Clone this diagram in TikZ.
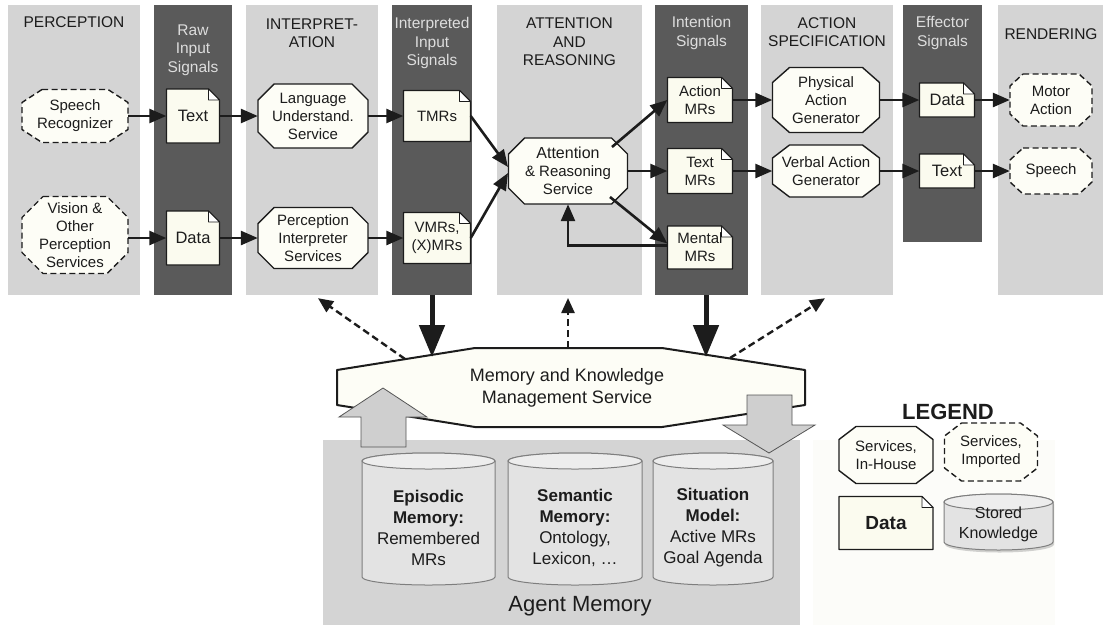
\documentclass[tikz,border=0pt]{standalone}
\usepackage{fontspec}
\setmainfont{Liberation Sans}
\usetikzlibrary{arrows.meta,calc,shadows}
\definecolor{lightcol}{HTML}{D4D4D4}
\definecolor{darkcol}{HTML}{5A5A5A}
\definecolor{nodefill}{HTML}{FDFDF6}
\definecolor{docfill}{HTML}{FBFBEF}
\definecolor{cylfill}{HTML}{E3E3E3}
\definecolor{cyltopfill}{HTML}{EDEDED}
\definecolor{cylline}{HTML}{7E7E7E}
\definecolor{ink}{HTML}{1C1C1C}
\definecolor{headlight}{HTML}{DDDDDD}
\definecolor{legbg}{HTML}{FCFCF9}
\definecolor{blockgray}{HTML}{CFCFCF}
\definecolor{blockline}{HTML}{555555}

\newcommand\octnode[9]{%
\draw[octbase,#1] ({#3-#5/2+#7},{-(#4-#6/2)}) -- ({#3+#5/2-#7},{-(#4-#6/2)}) -- ({#3+#5/2},{-(#4-#6/2+#8)}) -- ({#3+#5/2},{-(#4+#6/2-#8)}) -- ({#3+#5/2-#7},{-(#4+#6/2)}) -- ({#3-#5/2+#7},{-(#4+#6/2)}) -- ({#3-#5/2},{-(#4+#6/2-#8)}) -- ({#3-#5/2},{-(#4-#6/2+#8)}) -- cycle;
\node[minimum width=#5pt,minimum height=#6pt] (#2) at (#3,{-#4}) {#9};}

\newcommand\docnode[7]{%
\draw[docbase] ({#3-#5/2},{-(#4-#6/2)}) -- ({#3+#5/2-11},{-(#4-#6/2)}) -- ({#3+#5/2},{-(#4-#6/2+11)}) -- ({#3+#5/2},{-(#4+#6/2)}) -- ({#3-#5/2},{-(#4+#6/2)}) -- cycle;
\draw[docbase,fill=white,line width=0.8pt] ({#3+#5/2-11},{-(#4-#6/2)}) -- ({#3+#5/2-11},{-(#4-#6/2+11)}) -- ({#3+#5/2},{-(#4-#6/2+11)}) -- cycle;
\node[#1,minimum width=#5pt,minimum height=#6pt] (#2) at (#3,{-#4}) {#7};}

\newcommand\cylnode[9]{%
\pgfmathsetmacro\cylrx{(#6-#4)/2}%
\draw[cylbase,#1] (#4,{-(#5+8)}) -- (#4,{-(#7-8)}) arc[start angle=180,end angle=360,x radius=\cylrx pt,y radius=8pt] -- (#6,{-(#5+8)}) arc[start angle=0,end angle=180,x radius=\cylrx pt,y radius=8pt] -- cycle;
\draw[cyltop] ({(#4+#6)/2},{-(#5+8)}) ellipse[x radius=\cylrx pt,y radius=8pt];
\node[#2] (#3) at ({(#4+#6)/2},{-#8}) {#9};}

\begin{document}
\begin{tikzpicture}[x=1pt,y=1pt,
  every node/.style={font=\fontsize{15}{18}\selectfont, align=center, inner sep=0pt, text=ink},
  lcol/.style={fill=lightcol, draw=none},
  dcol/.style={fill=darkcol, draw=none},
  hdr/.style={font=\fontsize{15.5}{18.5}\selectfont},
  hdrlight/.style={hdr, text=headlight},
  octbase/.style={draw=ink, line width=1.4pt, fill=nodefill, line join=round},
  dashoct/.style={dash pattern=on 6pt off 3.5pt, line width=1.4pt},
  docbase/.style={draw=ink, line width=1.2pt, fill=docfill, line join=round},
  cylbase/.style={draw=cylline, line width=1pt, fill=cylfill},
  cyltop/.style={draw=cylline, line width=1pt, fill=cyltopfill},
  cyltext/.style={font=\fontsize{17}{21}\selectfont},
  arr/.style={draw=ink, line width=2.6pt, -{Triangle[length=17pt,width=14pt]}},
  thickarr/.style={draw=ink, line width=5pt, -{Triangle[length=32pt,width=25pt]}},
  dasharr/.style={draw=ink, line width=2.4pt, dash pattern=on 7pt off 4pt, -{Triangle[length=15pt,width=13pt]}},
  blockarr/.style={fill=blockgray, draw=blockline, line width=0.8pt, line join=miter},
  mkstyle/.style={draw=ink, line width=2pt, fill=nodefill, line join=round}
]
\useasboundingbox (0,0) rectangle (1105,-625);
\fill[white] (0,0) rectangle (1105,-625);

% columns
\node[lcol, minimum width=132pt, minimum height=290pt] (cPer) at (74,-150) {};
\node[dcol, minimum width=78pt, minimum height=290pt] (cRaw) at (193,-150) {};
\node[lcol, minimum width=132pt, minimum height=290pt] (cInt) at (312,-150) {};
\node[dcol, minimum width=80pt, minimum height=290pt] (cIIS) at (432,-150) {};
\node[lcol, minimum width=145pt, minimum height=290pt] (cAtt) at (569.5,-150) {};
\node[dcol, minimum width=93pt, minimum height=290pt] (cIS) at (701.5,-150) {};
\node[lcol, minimum width=132pt, minimum height=290pt] (cAct) at (827,-150) {};
\node[dcol, minimum width=79pt, minimum height=237pt] (cEff) at (942.5,-123.5) {};
\node[lcol, minimum width=105pt, minimum height=290pt] (cRen) at (1050.5,-150) {};

% headers
\node[hdr] (hPer) at (74,-22) {PERCEPTION};
\node[hdrlight] (hRaw) at (193,-50) {Raw\\Input\\Signals};
\node[hdr] (hInt) at (312,-33) {INTERPRET-\\ATION};
\node[hdrlight] (hIIS) at (432,-43) {Interpreted\\Input\\Signals};
\node[hdr] (hAtt) at (569.5,-42) {ATTENTION\\AND\\REASONING};
\node[hdrlight] (hIS) at (701.5,-33) {Intention\\Signals};
\node[hdr] (hAct) at (827,-32) {ACTION\\SPECIFICATION};
\node[hdrlight] (hEff) at (942.5,-33) {Effector\\Signals};
\node[hdr] (hRen) at (1051,-34) {RENDERING};

% agent memory & legend backgrounds
\node[fill=lightcol, minimum width=477pt, minimum height=185pt] (agm) at (561.5,-532.5) {};
\node[font=\fontsize{22}{26}\selectfont] (agmlabel) at (580,-606) {Agent Memory};
\node[fill=legbg, minimum width=242pt, minimum height=185pt] (legbox) at (934,-532.5) {};

% perception / interpretation nodes
\octnode{dashoct}{sr}{75}{116}{106}{53}{20}{13}{Speech\\Recognizer}
\octnode{dashoct}{vis}{75}{235}{106}{77}{21}{21}{Vision \&\\Other\\Perception\\Services}
\docnode{font=\fontsize{16.5}{19}\selectfont}{rtext}{193}{116}{53}{54}{Text}
\docnode{font=\fontsize{16.5}{19}\selectfont}{rdata}{193}{238}{53}{54}{Data}
\octnode{}{lus}{313}{116}{110}{64}{16}{16}{Language\\Understand.\\Service}
\octnode{}{pis}{313}{238}{110}{61}{16}{16}{Perception\\Interpreter\\Services}
\docnode{}{tmr}{437}{116}{67}{51}{TMRs}
\docnode{}{vmr}{437}{238}{67}{51}{VMRs,\\(X)MRs}

% attention & reasoning
\octnode{}{ars}{568}{171}{119}{66}{16}{16}{\fontsize{16}{18}\selectfont Attention\\\& Reasoning\\Service}
\docnode{}{act}{700}{100}{65}{45}{Action\\MRs}
\docnode{}{txm}{700}{171}{65}{45}{Text\\MRs}
\docnode{}{ment}{700}{247.5}{65}{43}{Mental\\MRs}

% action specification / rendering
\octnode{}{pag}{826}{100}{107}{65}{17}{15}{Physical\\Action\\Generator}
\octnode{}{vag}{826}{171}{107}{52}{17}{13}{Verbal Action\\Generator}
\docnode{font=\fontsize{16.5}{19}\selectfont}{edata}{947}{100}{55}{34}{Data}
\docnode{font=\fontsize{16.5}{19}\selectfont}{etext}{947}{171}{55}{34}{Text}
\octnode{dashoct}{motor}{1051}{100}{82}{52}{13}{12}{Motor\\Action}
\octnode{dashoct}{speech}{1051}{171}{82}{46}{13}{12}{Speech}

% arrows in the pipeline
\draw[arr] (sr) -- (rtext);
\draw[arr] (rtext) -- (lus);
\draw[arr] (lus) -- (tmr);
\draw[arr] (vis.east |- rdata) -- (rdata);
\draw[arr] (rdata) -- (pis);
\draw[arr] (pis) -- (vmr);
\draw[arr] (tmr.east) -- ($(ars.center)+(-60,4)$);
\draw[arr] (vmr.east) -- ($(ars.center)+(-60,-2)$);
\draw[arr] ($(ars.center)+(44,24)$) -- (act.west);
\draw[arr] (ars) -- (txm);
\draw[arr] ($(ars.center)+(42,-26)$) -- ([yshift=4pt]ment.west);
\draw[arr] ([yshift=2pt]ment.west) -| (ars.south);
\draw[arr] (act) -- (pag);
\draw[arr] (txm) -- (vag);
\draw[arr] (pag) -- (edata);
\draw[arr] (vag) -- (etext);
\draw[arr] (edata) -- (motor);
\draw[arr] (etext) -- (speech);

% memory and knowledge management service
\draw[mkstyle] (337,-370) -- (475,-348) -- (662,-348) -- (805,-370) -- (805,-405) -- (662,-427) -- (475,-427) -- (337,-405) -- cycle;
\node[font=\fontsize{18}{22}\selectfont] (mk) at (567,-388) {Memory and Knowledge\\Management Service};
\coordinate (mkA) at (432,-357);
\coordinate (mkB) at (706,-357);
\coordinate (mkC) at (405,-359);
\coordinate (mkD) at (568,-348);
\coordinate (mkE) at (730,-358);
\coordinate (tC) at ([xshift=6pt,yshift=-3pt]cInt.south);
\coordinate (tD) at (568,-298);
\coordinate (tE) at ([xshift=-2pt,yshift=-3pt]cAct.south);

\draw[thickarr] (cIIS.south) -- (mkA);
\draw[thickarr] (cIS.south -| mkB) -- (mkB);
\draw[dasharr] (mkC) -- (tC);
\draw[dasharr] (mkD) -- (tD);
\draw[dasharr] (mkE) -- (tE);

% gray block arrows
\draw[blockarr] (361,-447) -- (361,-417) -- (339,-417) -- (383,-388) -- (427,-417) -- (406,-417) -- (406,-447) -- cycle;
\draw[blockarr] (747,-395) -- (792,-395) -- (792,-425) -- (815,-425) -- (769,-453) -- (723,-425) -- (747,-425) -- cycle;

% memories
\cylnode{}{cyltext}{epi}{362}{453}{495}{585}{528}{\textbf{Episodic}\\\textbf{Memory:}\\Remembered\\MRs}
\cylnode{}{cyltext}{sem}{508}{453}{642}{585}{528}{\textbf{Semantic}\\\textbf{Memory:}\\Ontology,\\Lexicon, \dots}
\cylnode{}{cyltext}{sit}{653}{453}{773}{585}{528}{\textbf{Situation}\\\textbf{Model:}\\Active MRs\\Goal Agenda}

% legend
\node[font=\fontsize{22}{26}\selectfont\bfseries] (legtitle) at (948,-412) {LEGEND};
\octnode{}{leginh}{886}{455}{94}{57}{17}{13}{Services,\\In-House}
\octnode{dashoct}{legimp}{991}{452}{93}{58}{17}{13}{Services,\\Imported}
\docnode{font=\fontsize{19}{22}\selectfont\bfseries}{legdata}{886}{523}{94}{53}{Data}
\cylnode{drop shadow={opacity=0.35,shadow xshift=1pt,shadow yshift=-2.5pt}}{font=\fontsize{16}{20}\selectfont}{legcyl}{944}{494}{1053}{550}{524}{Stored\\Knowledge}
\end{tikzpicture}
\end{document}
